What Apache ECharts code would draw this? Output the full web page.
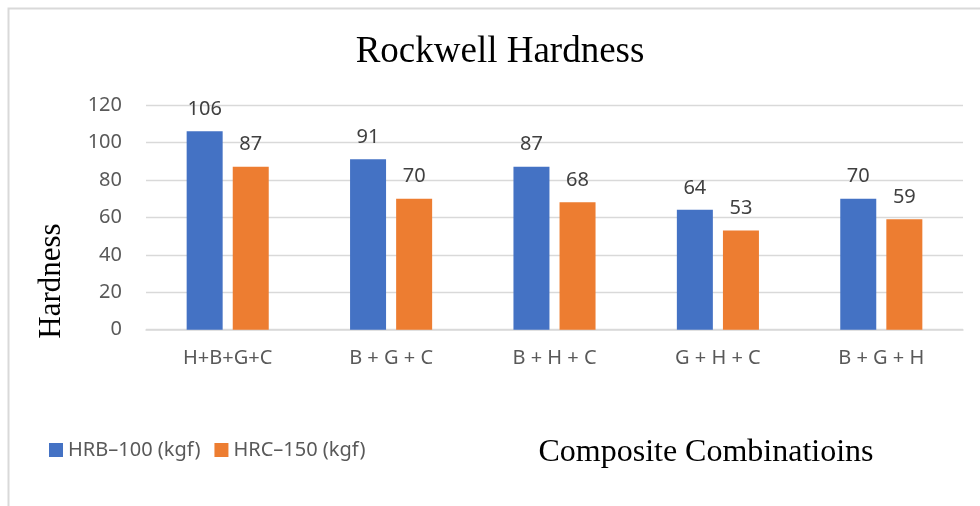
<!DOCTYPE html>
<html>
<head>
<meta charset="utf-8">
<script src="https://cdn.jsdelivr.net/npm/echarts@6/dist/echarts.min.js"></script>
<style>html,body{margin:0;padding:0;background:#fff;}#c{width:980px;height:506px;}</style>
</head>
<body>
<div id="c"></div>
<script>
const categories = ['H+B+G+C', 'B + G + C', 'B + H + C', 'G + H + C', 'B + G + H'];
const hrb = [106, 91, 87, 64, 70];
const hrc = [87, 70, 68, 53, 59];
const yTicks = { min: 0, max: 120, interval: 20 };

const sans = '"Noto Sans", sans-serif';
const serif = '"Liberation Serif", "Times New Roman", serif';
const chart = echarts.init(document.getElementById('c'));
chart.setOption({
  animation: false,
  backgroundColor: '#fff',
  graphic: [{
    type: 'rect', silent: true,
    shape: { x: 8.5, y: 8.5, width: 1200, height: 800 },
    style: { fill: 'none', stroke: '#d9d9d9', lineWidth: 2 }
  }, {
    type: 'text', x: 706, y: 453,
    style: { text: 'Composite Combinatioins', font: '32px ' + serif, fill: '#000', align: 'center', verticalAlign: 'middle' }
  }, {
    type: 'text', x: 52, y: 281, rotation: Math.PI / 2,
    style: { text: 'Hardness', font: '31px ' + serif, fill: '#000', align: 'center', verticalAlign: 'middle' }
  }, {
    type: 'text', x: 500, y: 52,
    style: { text: 'Rockwell Hardness', font: '37px ' + serif, fill: '#000', align: 'center', verticalAlign: 'middle' }
  }],
  legend: {
    left: 44, top: 435, itemWidth: 14, itemHeight: 14, itemGap: 14,
    icon: 'rect',
    textStyle: { fontFamily: sans, fontSize: 20, color: '#595959' },
    data: ['HRB\u2013100 (kgf)', 'HRC\u2013150 (kgf)']
  },
  grid: { left: 146, right: 17, top: 105, bottom: 176.3, containLabel: false },
  xAxis: {
    type: 'category', data: categories,
    axisLine: { lineStyle: { color: '#d9d9d9', width: 1.5 } },
    axisTick: { show: false },
    axisLabel: { fontFamily: sans, fontSize: 20, color: '#595959', margin: 19 }
  },
  yAxis: {
    type: 'value', min: yTicks.min, max: yTicks.max, interval: yTicks.interval,
    axisLine: { show: false }, axisTick: { show: false },
    axisLabel: { fontFamily: sans, fontSize: 20, color: '#595959', margin: 24 },
    splitLine: { lineStyle: { color: '#d9d9d9', width: 1.3 } }
  },
  series: [{
    name: 'HRB\u2013100 (kgf)', type: 'bar', data: hrb, barWidth: 36, barGap: '28%',
    itemStyle: { color: '#4472C4' },
    label: { show: true, position: 'top', distance: 12, fontFamily: sans, fontSize: 20, color: '#404040' }
  }, {
    name: 'HRC\u2013150 (kgf)', type: 'bar', data: hrc, barWidth: 36,
    itemStyle: { color: '#ED7D31' },
    label: { show: true, position: 'top', distance: 12, fontFamily: sans, fontSize: 20, color: '#404040' }
  }]
});
</script>
</body>
</html>
